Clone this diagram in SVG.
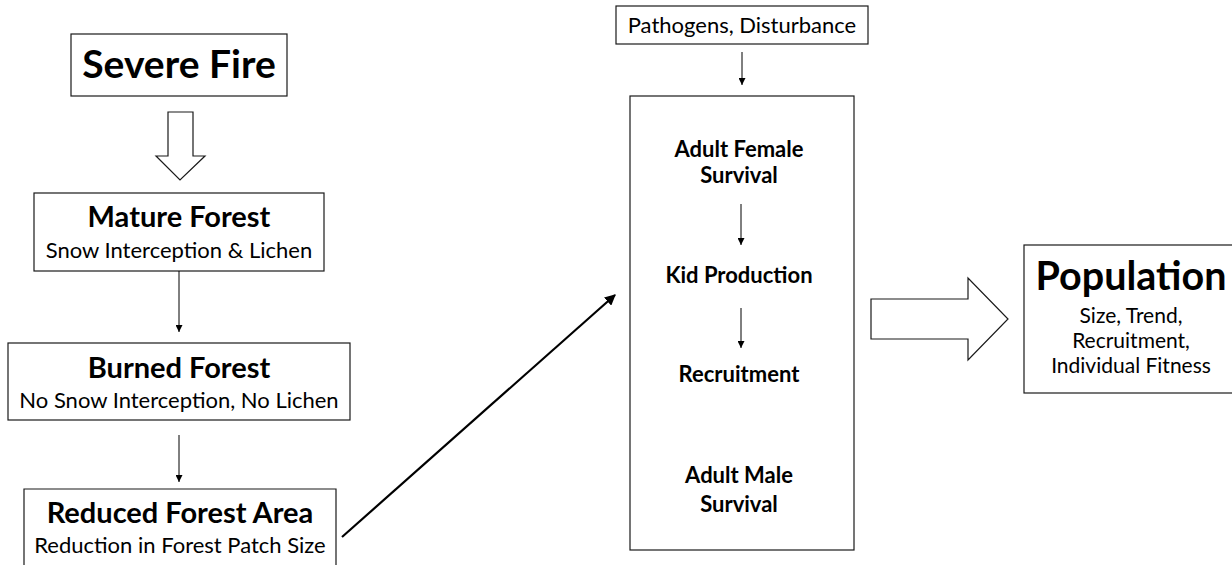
<svg xmlns="http://www.w3.org/2000/svg" width="1232" height="565" viewBox="0 0 1232 565">
<defs>
<marker id="ah" viewBox="0 0 10 10" refX="10" refY="5" markerWidth="7" markerHeight="7" markerUnits="userSpaceOnUse" orient="auto"><path d="M0,0 L10,5 L0,10 z" fill="#000"/></marker>
<marker id="ah2" viewBox="0 0 10 10" refX="9" refY="5" markerWidth="5" markerHeight="5" orient="auto"><path d="M0,0 L10,5 L0,10 z" fill="#000"/></marker>
</defs>
<style>
.box{fill:#fff;stroke:#1a1a1a;stroke-width:1.2}
.t{font-family:Lato,"Open Sans",sans-serif;fill:#000;text-anchor:middle}
.b{font-weight:bold}
.s{font-size:22px}
.p{font-size:21px}
.m{font-size:29px}
.thin{stroke:#000;stroke-width:1;fill:none}
.blk{fill:#fff;stroke:#1a1a1a;stroke-width:1.2}
</style>
<rect width="1232" height="565" fill="#fff"/>
<g id="severe-fire">
<rect class="box" x="71" y="34" width="216" height="62"/>
<text class="t b" x="179" y="78" font-size="39">Severe Fire</text>
</g>
<g id="mature-forest">
<rect class="box" x="34" y="193" width="290" height="78"/>
<text class="t b m" x="179" y="227">Mature Forest</text>
<text class="t s" x="179" y="258">Snow Interception &amp; Lichen</text>
</g>
<g id="burned-forest">
<rect class="box" x="8" y="343" width="342" height="77"/>
<text class="t b m" x="179" y="378">Burned Forest</text>
<text class="t s" x="179" y="408">No Snow Interception, No Lichen</text>
</g>
<g id="reduced-forest-area">
<path class="box" d="M24,570 V489 H336 V570"/>
<text class="t b m" x="180" y="523">Reduced Forest Area</text>
<text class="t s" x="180" y="553">Reduction in Forest Patch Size</text>
</g>
<g id="pathogens">
<rect class="box" x="616" y="6" width="252" height="38"/>
<text class="t s" x="742" y="33">Pathogens, Disturbance</text>
</g>
<g id="demography">
<rect class="box" x="630" y="96" width="224" height="454"/>
<text class="t b s" x="739" y="157">Adult Female</text>
<text class="t b s" x="739" y="183">Survival</text>
<text class="t b s" x="739" y="283">Kid Production</text>
<text class="t b s" x="739" y="382">Recruitment</text>
<text class="t b s" x="739" y="483">Adult Male</text>
<text class="t b s" x="739" y="512">Survival</text>
</g>
<g id="population">
<rect class="box" x="1024" y="245" width="220" height="148"/>
<text class="t b" x="1131" y="290" font-size="39.5">Population</text>
<text class="t p" x="1131" y="323">Size, Trend,</text>
<text class="t p" x="1131" y="348">Recruitment,</text>
<text class="t p" x="1131" y="373">Individual Fitness</text>
</g>
<g id="connectors">
<path class="blk" d="M168,112 H193 V156 H205 L180,180 L156,156 H168 Z"/>
<line class="thin" x1="179" y1="271" x2="179" y2="332" marker-end="url(#ah)"/>
<line class="thin" x1="179" y1="435" x2="179" y2="482" marker-end="url(#ah)"/>
<line class="thin" x1="742" y1="52" x2="742" y2="85" marker-end="url(#ah)"/>
<line class="thin" x1="741" y1="204" x2="741" y2="245" marker-end="url(#ah)"/>
<line class="thin" x1="741" y1="308" x2="741" y2="348" marker-end="url(#ah)"/>
<line x1="342" y1="537" x2="615" y2="295" stroke="#000" stroke-width="2.2" marker-end="url(#ah2)"/>
<path class="blk" d="M871,299 H968 V278 L1008,319 L968,360 V339 H871 Z"/>
</g>
</svg>
